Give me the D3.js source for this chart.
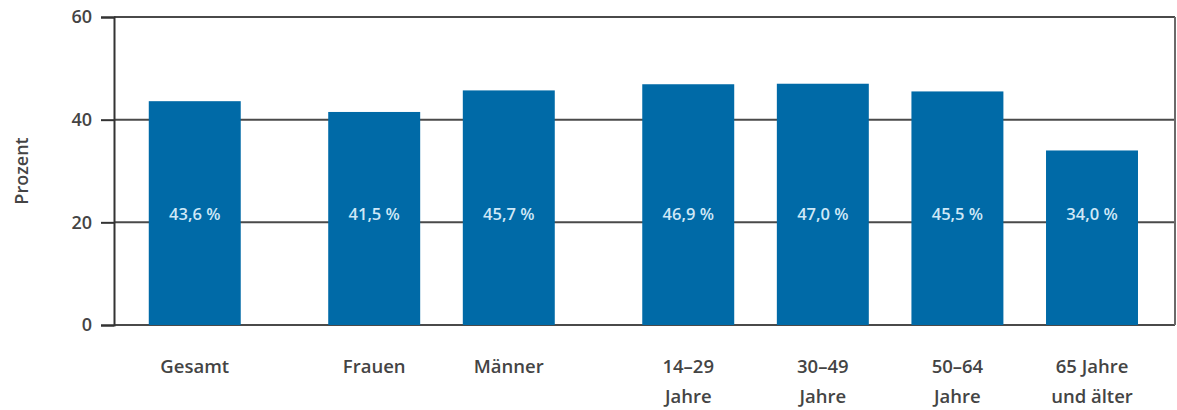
<!DOCTYPE html>
<html lang="de">
<head>
    <meta charset="UTF-8">
    <title>Prozent nach Gruppe</title>
    <script src="https://d3js.org/d3.v7.min.js"></script>
    <style>
        body { margin: 0; background: #fff; }
        text { font-family: "Open Sans", "Noto Sans", sans-serif; }
        .tick text { font-size: 18px; fill: #444; font-weight: 600; }
    </style>
</head>
<body>
<div id="chart"></div>
<script>
    // categories, split into groups (extra gap between groups)
    var groups = [
        [["Gesamt"]],
        [["Frauen"], ["Männer"]],
        [["14–29", "Jahre"], ["30–49", "Jahre"], ["50–64", "Jahre"], ["65 Jahre", "und älter"]]
    ];
    var values = [43.6, 41.5, 45.7, 46.9, 47.0, 45.5, 34.0];
    var valueLabels = ["43,6 %", "41,5 %", "45,7 %", "46,9 %", "47,0 %", "45,5 %", "34,0 %"];
    var yTicks = [0, 20, 40, 60];

    var width = 1177, height = 410;
    var margin = { top: 17, right: 2, bottom: 85, left: 114 };

    // slot index for each bar: 3 units per bar, 1 extra unit between groups
    var bars = [];
    var slot = 0;
    groups.forEach(function (g, gi) {
        if (gi > 0) slot += 1;
        g.forEach(function (lines) {
            bars.push({ lines: lines, slot: slot, value: values[bars.length], label: valueLabels[bars.length] });
            slot += 3;
        });
    });

    var svg = d3.select("#chart").append("svg")
        .attr("width", width).attr("height", height);

    var x = d3.scaleLinear()
        .domain([bars[0].slot - 1.8, bars[bars.length - 1].slot + 1.85])
        .range([margin.left, width - margin.right]);
    var unit = x(1) - x(0);
    var barW = unit * 2.05;

    var y = d3.scaleLinear()
        .domain([0, 60])
        .range([height - margin.bottom, margin.top]);

    // grid lines
    svg.append("g")
        .selectAll("line")
        .data(yTicks)
        .join("line")
        .attr("x1", margin.left).attr("x2", width - margin.right)
        .attr("y1", d => y(d)).attr("y2", d => y(d))
        .attr("stroke", "#4a4a4a").attr("stroke-width", 2);

    // right border
    svg.append("line")
        .attr("x1", width - margin.right).attr("x2", width - margin.right)
        .attr("y1", y(60)).attr("y2", y(0))
        .attr("stroke", "#6a6a6a").attr("stroke-width", 2);

    // bars
    svg.append("g")
        .selectAll("rect")
        .data(bars)
        .join("rect")
        .attr("x", d => x(d.slot) - barW / 2)
        .attr("width", barW)
        .attr("y", d => y(d.value))
        .attr("height", d => y(0) - y(d.value))
        .attr("fill", "#006aa7");

    // value labels
    svg.append("g")
        .selectAll("text")
        .data(bars)
        .join("text")
        .attr("x", d => x(d.slot))
        .attr("y", y(20) - 2)
        .attr("text-anchor", "middle")
        .style("font-size", "16.5px")
        .style("font-weight", "600")
        .style("fill", "#cfe8f7")
        .text(d => d.label);

    // y axis
    var yAxis = svg.append("g")
        .attr("transform", "translate(" + margin.left + ",0)")
        .call(d3.axisLeft(y).tickValues(yTicks).tickSize(13).tickPadding(9));
    yAxis.select(".domain").attr("stroke", "#333").attr("stroke-width", 2);
    yAxis.selectAll(".tick line").attr("stroke", "#333").attr("stroke-width", 2);

    // x category labels
    var cat = svg.append("g")
        .selectAll("text")
        .data(bars)
        .join("text")
        .attr("x", d => x(d.slot))
        .attr("y", 373)
        .attr("text-anchor", "middle")
        .style("font-size", "18.5px")
        .style("font-weight", "600")
        .style("fill", "#444");
    cat.selectAll("tspan")
        .data(d => d.lines.map(function (l) { return { t: l, x: x(d.slot) }; }))
        .join("tspan")
        .attr("x", t => t.x)
        .attr("dy", (t, i) => i === 0 ? 0 : 30)
        .text(t => t.t);

    // y axis title
    svg.append("text")
        .attr("transform", "translate(28," + y(30) + ") rotate(-90)")
        .attr("text-anchor", "middle")
        .style("font-size", "18px")
        .style("font-weight", "600")
        .style("fill", "#444")
        .text("Prozent");
</script>
</body>
</html>
